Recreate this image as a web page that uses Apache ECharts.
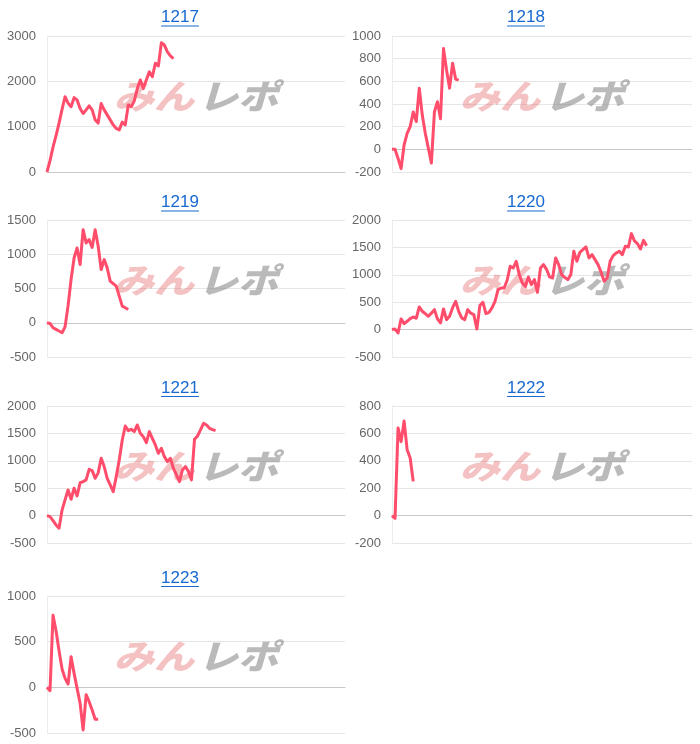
<!DOCTYPE html>
<html><head><meta charset="utf-8">
<script src="https://cdn.jsdelivr.net/npm/echarts@6/dist/echarts.min.js"></script>
<style>html,body{margin:0;padding:0;background:#fff}#c{width:700px;height:744px}</style>
</head><body><div id="c"></div>
<script>
// ---- data ----
const titles = ['1217', '1218', '1219', '1220', '1221', '1222', '1223'];

const s1217 = [0, 250, 550, 800, 1080, 1380, 1660, 1520, 1440, 1640, 1590, 1400, 1290, 1370, 1460, 1370, 1150, 1080, 1510, 1370, 1260, 1150, 1040, 960, 930, 1100, 1040, 1480, 1440, 1570, 1840, 2030, 1840, 2030, 2210, 2100, 2400, 2340, 2850, 2800, 2650, 2560, 2500];
const s1218 = [0, 0, -80, -170, 40, 140, 200, 330, 245, 540, 300, 140, 10, -120, 330, 420, 270, 890, 700, 540, 760, 620, 610];
const s1219 = [0, -10, -73, -97, -121, -146, -60, 250, 631, 946, 1092, 850, 1359, 1165, 1214, 1100, 1359, 1116, 777, 922, 801, 607, 570, 534, 388, 243, 218, 194];
const s1220 = [0, 10, -61, 195, 109, 152, 200, 231, 207, 413, 334, 290, 243, 300, 365, 195, 122, 377, 182, 243, 400, 517, 334, 213, 182, 365, 300, 274, 12, 438, 499, 292, 316, 395, 517, 730, 760, 760, 900, 1155, 1125, 1246, 1003, 850, 790, 961, 821, 912, 681, 1125, 1186, 1100, 961, 942, 1307, 1186, 1003, 950, 912, 1003, 1429, 1246, 1410, 1460, 1508, 1307, 1368, 1277, 1186, 1046, 882, 942, 1246, 1350, 1398, 1429, 1368, 1520, 1508, 1751, 1620, 1569, 1471, 1629, 1532];
const s1221 = [0, -18, -91, -170, -231, 100, 286, 468, 298, 499, 359, 600, 620, 651, 845, 821, 681, 780, 1046, 894, 681, 559, 438, 711, 1015, 1380, 1636, 1550, 1575, 1532, 1654, 1502, 1441, 1331, 1532, 1410, 1289, 1137, 1228, 1076, 985, 1046, 863, 742, 620, 833, 894, 803, 651, 1392, 1453, 1563, 1684, 1654, 1593, 1570, 1550];
const s1222 = [0, -20, 640, 540, 690, 480, 420, 250];
const s1223 = [0, -36, 790, 620, 400, 200, 98, 36, 335, 153, -11, -175, -466, -80, -157, -248, -350, -350];

const seriesValues = [s1217, s1218, s1219, s1220, s1221, s1222, s1223];

const yMins  = [0, -200, -500, -500, -500, -200, -500];
const yMaxs  = [3000, 1000, 1500, 2000, 2000, 800, 1000];
const ySteps = [1000, 200, 500, 500, 500, 200, 500];

const SLOT_COUNT = 100;
const slots = Array.from({length: SLOT_COUNT}, (_, i) => String(i + 1));

// ---- layout ----
const colLeft = [47, 392];
const colWidth = [298, 300];
const colTitleX = [180, 526];
const rowTop = [36, 220, 406, 596];
const rowH = [136, 137, 137, 137];

const LINE_COLOR = '#ff4d6b';
const TITLE_COLOR = '#1769d1';
const FONT = '"Liberation Sans", Arial, Helvetica, sans-serif';

const mctx = document.createElement('canvas').getContext('2d');
mctx.font = '17px ' + FONT;

const grids = [], xAxes = [], yAxes = [], series = [], graphics = [];
titles.forEach((t, i) => {
  const col = i % 2, row = Math.floor(i / 2);
  const left = colLeft[col], top = rowTop[row], w = colWidth[col], h = rowH[row];
  grids.push({left: left, top: top, width: w, height: h, containLabel: false});
  xAxes.push({
    type: 'category', gridIndex: i, data: slots, boundaryGap: false,
    axisLabel: {show: false}, axisTick: {show: false},
    axisLine: {show: true, onZero: true, lineStyle: {color: '#c8c8c8', width: 1}},
    splitLine: {show: false}
  });
  yAxes.push({
    type: 'value', gridIndex: i, min: yMins[i], max: yMaxs[i], interval: ySteps[i],
    axisLabel: {color: '#666', fontSize: 13, fontFamily: FONT, margin: 11, formatter: v => String(v)},
    axisTick: {show: false},
    axisLine: {show: true, lineStyle: {color: '#ececec'}},
    splitLine: {show: true, lineStyle: {color: '#e6e6e6', width: 1}}
  });
  series.push({
    type: 'line', xAxisIndex: i, yAxisIndex: i, data: seriesValues[i],
    showSymbol: false, symbol: 'none', z: 5,
    lineStyle: {color: LINE_COLOR, width: 3, join: 'round'},
    itemStyle: {color: LINE_COLOR}
  });
  // title with underline
  const ty = [17.5, 202.5, 388, 578][row];
  const tw = mctx.measureText(t).width;
  graphics.push({
    type: 'text', x: colTitleX[col], y: ty, z: 10,
    style: {text: t, fill: TITLE_COLOR, font: '17px ' + FONT, align: 'center', verticalAlign: 'middle'}
  });
  graphics.push({
    type: 'line', z: 10,
    shape: {x1: colTitleX[col] - tw / 2, y1: ty + 8.5, x2: colTitleX[col] + tw / 2, y2: ty + 8.5},
    style: {stroke: TITLE_COLOR, lineWidth: 1.2}
  });
  // watermark
  const cx = left + w / 2, cy = top + 60;
  graphics.push({
    type: 'text', x: cx - 2, y: cy, z: 1, scaleX: 1.18, originX: 0, originY: 0,
    style: {text: 'みん', fill: 'rgba(228,110,110,0.42)', font: 'italic 900 34px "Noto Sans CJK JP"', align: 'right', verticalAlign: 'middle'}
  });
  graphics.push({
    type: 'text', x: cx + 2, y: cy, z: 1, scaleX: 1.18, originX: 0, originY: 0,
    style: {text: 'レポ', fill: 'rgba(140,140,140,0.6)', font: 'italic 900 34px "Noto Sans CJK JP"', align: 'left', verticalAlign: 'middle'}
  });
});

const chart = echarts.init(document.getElementById('c'), null, {renderer: 'canvas'});
chart.setOption({
  animation: false,
  backgroundColor: '#fff',
  grid: grids, xAxis: xAxes, yAxis: yAxes, series: series,
  graphic: graphics
});
</script></body></html>
